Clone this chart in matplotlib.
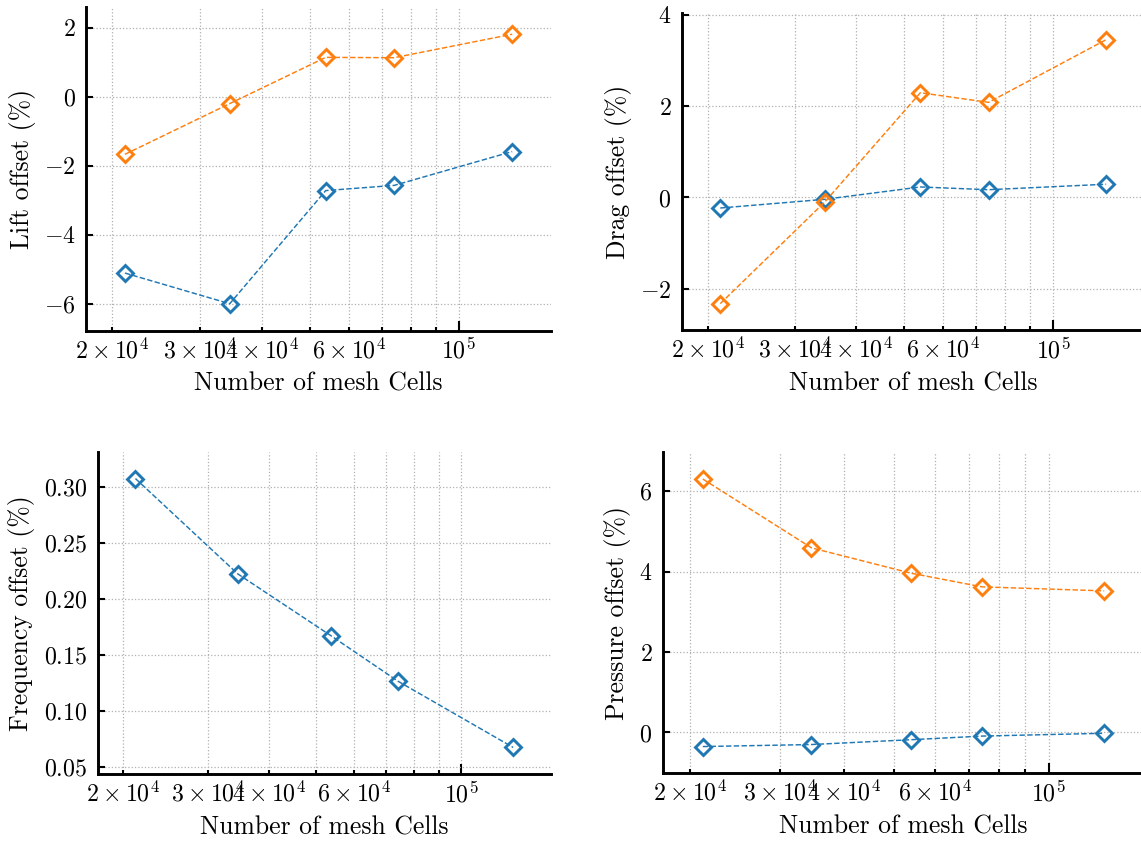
import matplotlib
matplotlib.use("Agg")
import matplotlib.pyplot as plt
from matplotlib.ticker import MultipleLocator

# Mesh sizes and percentage offsets for the two compared quantities
cells = [21200, 34500, 53900, 74100, 128200]

lift_blue = [-5.11, -6.00, -2.72, -2.57, -1.59]
lift_orange = [-1.67, -0.20, 1.14, 1.13, 1.81]

drag_blue = [-0.23, -0.04, 0.23, 0.17, 0.29]
drag_orange = [-2.32, -0.10, 2.29, 2.08, 3.45]

freq_blue = [0.3078, 0.2227, 0.1672, 0.1267, 0.0676]

pres_blue = [-0.35, -0.30, -0.18, -0.09, -0.02]
pres_orange = [6.30, 4.59, 3.96, 3.62, 3.52]

xlabel = "Number of mesh Cells"
ylabels = ["Lift offset (%)", "Drag offset (%)",
           "Frequency offset (%)", "Pressure offset (%)"]
ysteps = [2, 2, 0.05, 2]

BLUE = "#1f77b4"
ORANGE = "#ff7f0e"

plt.rcParams["font.family"] = ["cmr10", "DejaVu Serif"]
plt.rcParams["mathtext.fontset"] = "cm"
plt.rcParams["axes.formatter.use_mathtext"] = True
plt.rcParams["font.size"] = 11.5
plt.rcParams["axes.labelsize"] = 12.3
plt.rcParams["axes.linewidth"] = 1.4

W, H = 1141, 841
fig = plt.figure(figsize=(W / 150, H / 150), dpi=150)


def px_axes(left, top, right, bottom):
    return fig.add_axes([left / W, 1 - bottom / H, (right - left) / W, (bottom - top) / H])


axes = [
    px_axes(86.2, 7.3, 550.9, 330.7),
    px_axes(681.7, 13.3, 1144.7, 330.0),
    px_axes(97.7, 451.7, 550.9, 774.3),
    px_axes(662.7, 452.3, 1144.3, 773.3),
]

series = [
    [lift_blue, lift_orange],
    [drag_blue, drag_orange],
    [freq_blue],
    [pres_blue, pres_orange],
]

style = dict(ls="--", lw=0.7, marker="D", ms=5.6, mew=1.4, mfc="none")

for ax, data, ylab, step in zip(axes, series, ylabels, ysteps):
    for values, color in zip(data, [BLUE, ORANGE]):
        ax.plot(cells, values, color=color, mec=color, **style)
    ax.set_xscale("log")
    ax.margins(0.1)
    ax.yaxis.set_major_locator(MultipleLocator(step))
    ax.spines["top"].set_visible(False)
    ax.spines["right"].set_visible(False)
    ax.grid(True, which="major", axis="both", ls=":", color="#b0b0b0", lw=0.6)
    ax.grid(True, which="minor", axis="x", ls=":", color="#b0b0b0", lw=0.6)
    ax.tick_params(which="both", direction="in", width=1.0)
    ax.tick_params(axis="x", which="major", length=5)
    ax.tick_params(axis="x", which="minor", length=2)
    ax.tick_params(axis="y", which="major", length=3.5, pad=5)
    ax.set_xlabel(xlabel)
    ax.set_ylabel(ylab)

fig.savefig("out.png", dpi=150)
